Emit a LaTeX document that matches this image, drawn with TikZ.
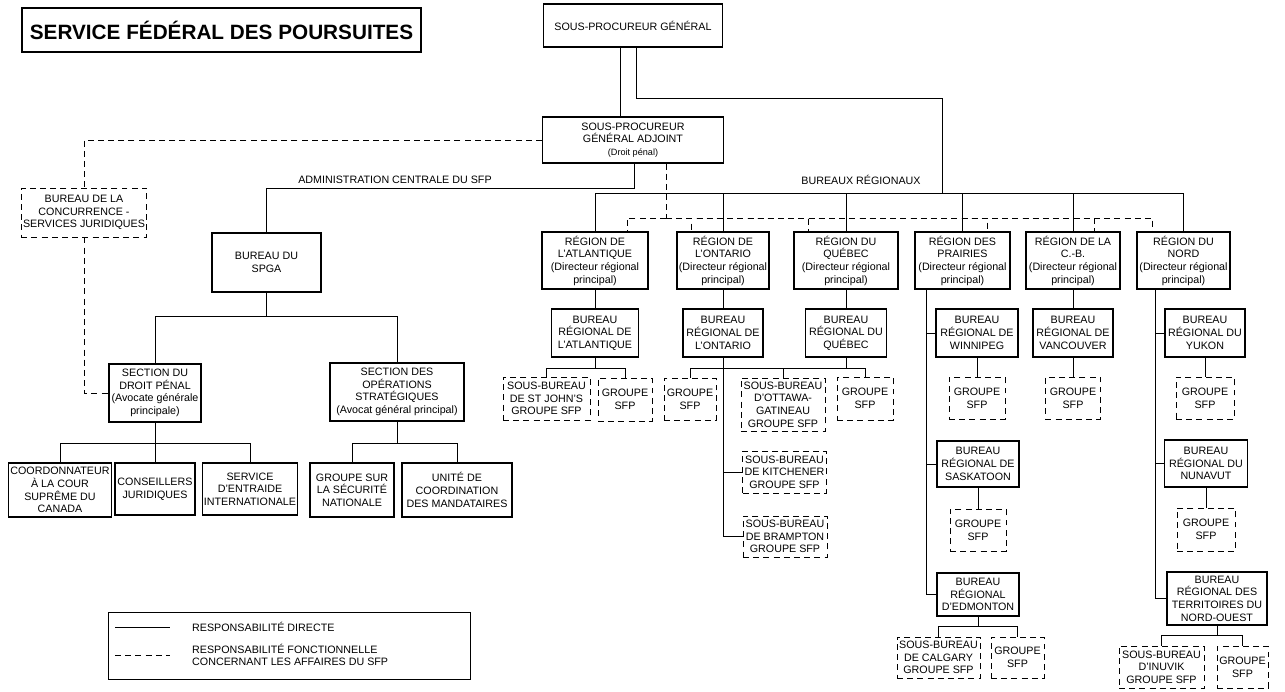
\documentclass[tikz,border=0pt]{standalone}
\usepackage{fontspec}
\setmainfont{Liberation Sans}
\usetikzlibrary{arrows,positioning,calc}

\begin{document}
\begin{tikzpicture}[x=0.02cm,y=-0.02cm]
\tikzstyle{lien}=[line width=0.5pt]
\tikzstyle{lienf}=[line width=0.5pt,dash pattern=on 3.4pt off 2.4pt]
\tikzstyle{texte}=[font=\fontsize{6.1}{7.2}\selectfont]
\tikzstyle{boite}=[texte,draw,line width=0.6pt,rectangle,align=center,inner sep=1pt]
\tikzstyle{boitep}=[boite,line width=0.5pt,dash pattern=on 3.4pt off 2.4pt]
\tikzset{taille/.style 2 args={minimum width=#1*0.02cm,minimum height=#2*0.02cm}}
\def\NiveauR{260.5}
\def\NiveauB{333}
\useasboundingbox (0,0) rectangle (1285,691);
\node[boite,taille={399}{44},line width=0.9pt,font=\fontsize{11.8}{13}\selectfont\bfseries] (TITRE) at (221.5,30) {SERVICE FÉDÉRAL DES POURSUITES};
\node[boite,taille={179}{43}] (SPG) at (633,25.5) {SOUS-PROCUREUR GÉNÉRAL};
\node[boite,taille={181}{46}] (SPGA) at (633,140) {SOUS-PROCUREUR\\GÉNÉRAL ADJOINT\\{\fontsize{5.2}{6.2}\selectfont (Droit pénal)}};
\node[boitep,taille={125}{49}] (BCSJ) at (84,212.5) {BUREAU DE LA\\CONCURRENCE -\\SERVICES JURIDIQUES};
\node[boite,taille={109}{59}] (BSPGA) at (266.5,262.5) {BUREAU DU\\SPGA};
\node[boite,taille={92}{58}] (SDP) at (155,393) {SECTION DU\\DROIT PÉNAL\\(Avocate générale\\principale)};
\node[boite,taille={134}{58}] (SOS) at (397,392) {SECTION DES\\OPÉRATIONS\\STRATÉGIQUES\\(Avocat général principal)};
\node[boite,taille={102}{54}] (COUR) at (60,490) {COORDONNATEUR\\À LA COUR\\SUPRÊME DU\\CANADA};
\node[boite,taille={80}{52}] (CONS) at (155,489) {CONSEILLERS\\JURIDIQUES};
\node[boite,taille={94}{52}] (SEI) at (250,489) {SERVICE\\D'ENTRAIDE\\INTERNATIONALE};
\node[boite,taille={84}{54}] (GSN) at (352,490) {GROUPE SUR\\LA SÉCURITÉ\\NATIONALE};
\node[boite,taille={110}{54}] (UCM) at (457,490) {UNITÉ DE\\COORDINATION\\DES MANDATAIRES};
\node[texte] (ADM) at (395,180) {ADMINISTRATION CENTRALE DU SFP};
\node[texte] (BUR) at (861,180) {BUREAUX RÉGIONAUX};
\node[boite,taille={106}{57}] (RAtl) at (595,\NiveauR) {RÉGION DE\\L'ATLANTIQUE\\(Directeur régional\\principal)};
\node[boite,taille={92}{57}] (ROnt) at (723,\NiveauR) {RÉGION DE\\L'ONTARIO\\(Directeur régional\\principal)};
\node[boite,taille={104}{57}] (RQc) at (846,\NiveauR) {RÉGION DU\\QUÉBEC\\(Directeur régional\\principal)};
\node[boite,taille={95}{57}] (RPr) at (962.5,\NiveauR) {RÉGION DES\\PRAIRIES\\(Directeur régional\\principal)};
\node[boite,taille={94}{57}] (RCB) at (1073,\NiveauR) {RÉGION DE LA\\C.-B.\\(Directeur régional\\principal)};
\node[boite,taille={93}{57}] (RNord) at (1183.5,\NiveauR) {RÉGION DU\\NORD\\(Directeur régional\\principal)};
\node[boite,taille={87}{48}] (BAtl) at (595,\NiveauB) {BUREAU\\RÉGIONAL DE\\L'ATLANTIQUE};
\node[boite,taille={80}{48}] (BOnt) at (723,\NiveauB) {BUREAU\\RÉGIONAL DE\\L'ONTARIO};
\node[boite,taille={81}{48}] (BQc) at (846,\NiveauB) {BUREAU\\RÉGIONAL DU\\QUÉBEC};
\node[boite,taille={82}{48}] (BWpg) at (977,\NiveauB) {BUREAU\\RÉGIONAL DE\\WINNIPEG};
\node[boite,taille={80}{48}] (BVan) at (1073,\NiveauB) {BUREAU\\RÉGIONAL DE\\VANCOUVER};
\node[boite,taille={80}{48}] (BYuk) at (1205,\NiveauB) {BUREAU\\RÉGIONAL DU\\YUKON};
\node[boite,taille={82}{46}] (BSask) at (978,464) {BUREAU\\RÉGIONAL DE\\SASKATOON};
\node[boite,taille={83}{47}] (BNun) at (1206,463.5) {BUREAU\\RÉGIONAL DU\\NUNAVUT};
\node[boite,taille={82}{43}] (BEdm) at (978,594.5) {BUREAU\\RÉGIONAL\\D'EDMONTON};
\node[boite,taille={100}{53}] (BTNO) at (1217,598.5) {BUREAU\\RÉGIONAL DES\\TERRITOIRES DU\\NORD-OUEST};
\node[boitep,taille={87}{43}] (SBStJ) at (546.5,398.5) {SOUS-BUREAU\\DE ST JOHN'S\\GROUPE SFP};
\node[boitep,taille={54}{43}] (GAtl) at (625,399.5) {GROUPE\\SFP};
\node[boitep,taille={52}{42}] (GOnt) at (690,399) {GROUPE\\SFP};
\node[boitep,taille={84}{53}] (SBOtt) at (783,404.5) {SOUS-BUREAU\\D'OTTAWA-\\GATINEAU\\GROUPE SFP};
\node[boitep,taille={56}{43}] (GQc) at (865,398.5) {GROUPE\\SFP};
\node[boitep,taille={83}{42}] (SBKit) at (784.5,472) {SOUS-BUREAU\\DE KITCHENER\\GROUPE SFP};
\node[boitep,taille={84}{41}] (SBBra) at (785,536.5) {SOUS-BUREAU\\DE BRAMPTON\\GROUPE SFP};
\node[boitep,taille={56}{42}] (GWpg) at (977,398) {GROUPE\\SFP};
\node[boitep,taille={55}{42}] (GVan) at (1073,398) {GROUPE\\SFP};
\node[boitep,taille={58}{42}] (GYuk) at (1205,398) {GROUPE\\SFP};
\node[boitep,taille={56}{42}] (GSask) at (978,530) {GROUPE\\SFP};
\node[boitep,taille={58}{43}] (GNun) at (1206,529.5) {GROUPE\\SFP};
\node[boitep,taille={83}{41}] (SBCal) at (938.5,657.5) {SOUS-BUREAU\\DE CALGARY\\GROUPE SFP};
\node[boitep,taille={53}{41}] (GEdm) at (1017.5,657.5) {GROUPE\\SFP};
\node[boitep,taille={85}{42}] (SBInu) at (1161.5,667) {SOUS-BUREAU\\D'INUVIK\\GROUPE SFP};
\node[boitep,taille={51}{42}] (GTNO) at (1242.5,667) {GROUPE\\SFP};
\coordinate (BR) at (942,193);
\coordinate (BF) at (666,218);
\draw[lien] ($(SPG.south)+(-13,0)$) -- ($(SPGA.north)+(-13,0)$);
\draw[lien] ($(SPG.south)+(3,0)$) -- ++(0,51) -| (BR);
\foreach \r in {RAtl,ROnt,RQc,RPr,RCB,RNord}
  \draw[lien] (BR) -| (\r.north);
\draw[lienf] ($(SPGA.south)+(33,0)$) -- (BF);
\draw[lienf] (BF) -| ($(RAtl.north)+(32,0)$);
\draw[lienf] (BF) -| ($(ROnt.north)+(-32,0)$);
\draw[lienf] (BF) -| ($(RQc.north)+(-38,0)$);
\draw[lienf] (BF) -| ($(RPr.north)+(25,0)$);
\draw[lienf] (BF) -| ($(RCB.north)+(21,0)$);
\draw[lienf] (BF) -| ($(RNord.north)+(-31,0)$);
\draw[lienf] (SPGA.west) -| (BCSJ.north);
\draw[lienf] (BCSJ.south) |- (SDP.west);
\draw[lien] ($(SPGA.south)+(1,0)$) -- ++(0,25) -| (BSPGA.north);
\draw[lien] (BSPGA.south) -- ++(0,24) -| (SDP.north);
\draw[lien] (BSPGA.south) -- ++(0,24) -| (SOS.north);
\draw[lien] (SDP.south) -- ++(0,21) -| (COUR.north);
\draw[lien] (SDP.south) -- (CONS.north);
\draw[lien] (SDP.south) -- ++(0,21) -| (SEI.north);
\draw[lien] (SOS.south) -- ++(0,22) -| (GSN.north);
\draw[lien] (SOS.south) -- ++(0,22) -| (UCM.north);
\draw[lien] (RAtl.south) -- (BAtl.north);
\draw[lien] (ROnt.south) -- (BOnt.north);
\draw[lien] (RQc.south) -- (BQc.north);
\draw[lien] (RCB.south) -- (BVan.north);
\draw[lien] ($(RPr.south)+(-36,0)$) |- (BWpg.west);
\draw[lien] ($(RPr.south)+(-36,0)$) |- (BSask.west);
\draw[lien] ($(RPr.south)+(-36,0)$) |- (BEdm.west);
\draw[lien] ($(RNord.south)+(-28,0)$) |- (BYuk.west);
\draw[lien] ($(RNord.south)+(-28,0)$) |- (BNun.west);
\draw[lien] ($(RNord.south)+(-28,0)$) |- (BTNO.west);
\draw[lien] (BAtl.south) -- ++(0,11) -| (SBStJ.north);
\draw[lien] (BAtl.south) -- ++(0,11) -| (GAtl.north);
\draw[lien] (BOnt.south) -- ++(0,11) -| (GOnt.north);
\draw[lien] (BOnt.south) -- ++(0,11) -| (SBOtt.north);
\draw[lien] (BOnt.south) |- (SBKit.west);
\draw[lien] (BOnt.south) |- (SBBra.west);
\draw[lien] (BQc.south) -- ++(0,11) -| (SBOtt.north);
\draw[lien] (BQc.south) -- ++(0,11) -| (GQc.north);
\draw[lien] (BWpg.south) -- (GWpg.north);
\draw[lien] (BVan.south) -- (GVan.north);
\draw[lien] (BYuk.south) -- (GYuk.north);
\draw[lien] (BSask.south) -- (GSask.north);
\draw[lien] (BNun.south) -- (GNun.north);
\draw[lien] (BEdm.south) -- ++(0,10) -| (SBCal.north);
\draw[lien] (BEdm.south) -- ++(0,10) -| (GEdm.north);
\draw[lien] (BTNO.south) -- ++(0,10) -| (SBInu.north);
\draw[lien] (BTNO.south) -- ++(0,10) -| (GTNO.north);
\node[draw,lien,taille={362}{67}] (LEG) at (289,645.5) {};
\node[texte,anchor=west] (LD) at (186,627) {RESPONSABILITÉ DIRECTE};
\node[texte,anchor=west,align=left] (LF) at (186,655) {RESPONSABILITÉ FONCTIONNELLE\\CONCERNANT LES AFFAIRES DU SFP};
\draw[lien] ($(LD.west)+(-71,0)$) -- ++(55,0);
\draw[lienf] ($(LF.west)+(-71,0)$) -- ++(55,0);
\end{tikzpicture}
\end{document}
